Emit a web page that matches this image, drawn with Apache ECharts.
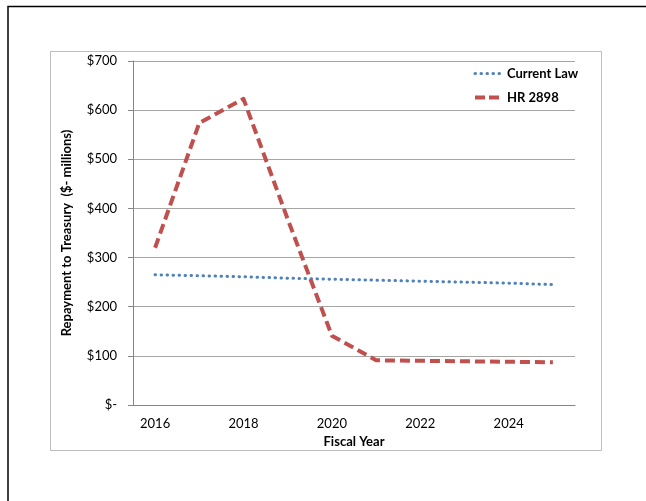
<!DOCTYPE html>
<html><head><meta charset="utf-8">
<script src="https://cdn.jsdelivr.net/npm/echarts@6/dist/echarts.min.js"></script>
<style>html,body{margin:0;padding:0;background:#fff}#c{width:646px;height:501px}</style>
</head><body><div id="c"></div>
<script>
const years = ['2016','2017','2018','2019','2020','2021','2022','2023','2024','2025'];
const currentLaw = [265, 263, 261, 258, 256, 254, 252, 250, 248, 245];
const hr2898 = [320, 574, 623, 378, 141, 91, 90, 89, 88, 87];
const yTicks = [0, 100, 200, 300, 400, 500, 600, 700];
const font = 'Lato, "Open Sans", sans-serif';
const chart = echarts.init(document.getElementById('c'));
chart.setOption({
  animation: false,
  backgroundColor: '#fff',
  graphic: [
    {type:'polyline', shape:{points:[[8,501],[8,6.5],[646,6.5]]}, style:{stroke:'#000', lineWidth:1.5, fill:null}, silent:true},
    {type:'rect', shape:{x:50.5,y:51.5,width:551,height:399}, style:{stroke:'#bdbdbd', lineWidth:1, fill:null}, silent:true}
  ],
  grid: {left:133, right:71, top:61, bottom:96},
  legend: {
    orient:'vertical', left:468, top:62, itemGap:11, itemWidth:27, itemHeight:12,
    textStyle:{fontFamily:font, fontSize:13, fontWeight:'bold', color:'#000'},
    itemStyle:{opacity:0},
    data:[
      {name:'Current Law', lineStyle:{width:3, type:[0.5,5.5], cap:'round'}},
      {name:'HR 2898', lineStyle:{width:4, type:[10,4], cap:'butt'}}
    ]
  },
  xAxis: {
    type:'category', data:years, boundaryGap:true,
    name:'Fiscal Year', nameLocation:'middle', nameGap:30,
    nameTextStyle:{fontFamily:font, fontSize:13, fontWeight:'bold', color:'#000'},
    axisLine:{lineStyle:{color:'#868686'}},
    axisTick:{interval:1, length:5, lineStyle:{color:'#868686'}},
    axisLabel:{interval:1, fontFamily:font, fontSize:13, color:'#000', margin:12}
  },
  yAxis: {
    type:'value', min:0, max:700, interval:100,
    name:'Repayment to Treasury  ($- millions)', nameLocation:'middle', nameGap:60,
    nameTextStyle:{fontFamily:font, fontSize:13, fontWeight:'bold', color:'#000'},
    axisLine:{show:true, lineStyle:{color:'#868686'}},
    axisTick:{show:true, length:5, lineStyle:{color:'#868686'}},
    splitLine:{lineStyle:{color:'#a6a6a6'}},
    axisLabel:{fontFamily:font, fontSize:13, color:'#000', margin:16,
      formatter: v => yTicks.includes(v) ? (v === 0 ? '$-' : '$' + v) : ''}
  },
  series: [
    {name:'Current Law', type:'line', data:currentLaw, symbol:'none', color:'#4F81BD',
     lineStyle:{color:'#4F81BD', width:3, type:[0.5,5.5], cap:'round'}},
    {name:'HR 2898', type:'line', data:hr2898, symbol:'none', color:'#C0504D',
     lineStyle:{color:'#C0504D', width:4, type:[10,5], cap:'butt', join:'round'}}
  ]
});
</script></body></html>
